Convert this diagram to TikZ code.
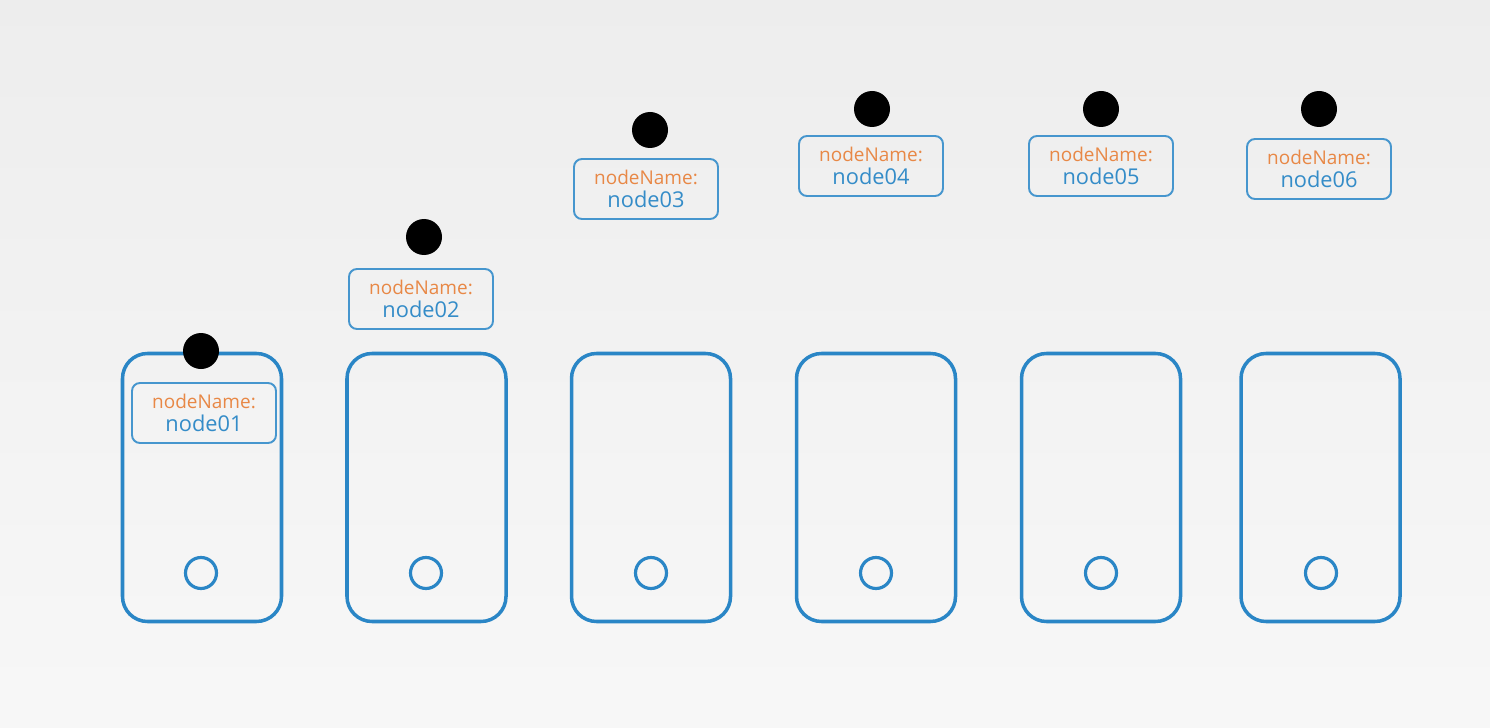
\documentclass[tikz,border=0pt]{standalone}
\usepackage{fontspec}
\setmainfont{Open Sans}
\usepackage{tikz}
\usetikzlibrary{positioning}
\definecolor{srvblue}{RGB}{42,134,198}
\definecolor{lblblue}{RGB}{70,150,206}
\definecolor{txtblue}{RGB}{52,140,200}
\definecolor{txtorange}{RGB}{232,136,70}
\tikzset{
    server/.style = {draw=srvblue, line width=1pt, rounded corners=0.25cm,
        minimum width=1.59cm, minimum height=2.68cm, inner sep=0pt},
    homebtn/.style = {draw=srvblue, line width=0.9pt, circle, minimum size=0.31cm, inner sep=0pt},
    pod/.style = {fill=black, circle, minimum size=0.36cm, inner sep=0pt},
    podlabel/.style = {draw=lblblue, line width=0.55pt, rounded corners=0.08cm,
        minimum width=1.44cm, minimum height=0.60cm, inner sep=0pt, align=center,
        text=txtblue, font=\fontsize{6.2}{6.6}\selectfont},
}

\begin{document}
\begin{tikzpicture}
				\useasboundingbox (0, 0) rectangle (14.9, 7.27);
				\shade[top color=black!7, bottom color=black!3] (0, 0) rectangle (14.9, 7.27);

				\node[server] (S1) at (2.02, 2.395) {};
				\node[server] (S2) at (4.265, 2.395) {};
				\node[server] (S3) at (6.51, 2.395) {};
				\node[server] (S4) at (8.76, 2.395) {};
				\node[server] (S5) at (11.01, 2.395) {};
				\node[server] (S6) at (13.205, 2.395) {};

				\node[homebtn] (B1) at (2.01, 1.54) {};
				\node[homebtn] (B2) at (4.26, 1.54) {};
				\node[homebtn] (B3) at (6.51, 1.54) {};
				\node[homebtn] (B4) at (8.76, 1.54) {};
				\node[homebtn] (B5) at (11.01, 1.54) {};
				\node[homebtn] (B6) at (13.21, 1.54) {};

				\node[podlabel] (L1) at (2.04, 3.14) {{\color{txtorange}\fontsize{5.4}{6.6}\selectfont nodeName:}\\node01};
				\node[podlabel] (L2) at (4.21, 4.28) {{\color{txtorange}\fontsize{5.4}{6.6}\selectfont nodeName:}\\node02};
				\node[podlabel] (L3) at (6.46, 5.38) {{\color{txtorange}\fontsize{5.4}{6.6}\selectfont nodeName:}\\node03};
				\node[podlabel] (L4) at (8.71, 5.61) {{\color{txtorange}\fontsize{5.4}{6.6}\selectfont nodeName:}\\node04};
				\node[podlabel] (L5) at (11.01, 5.61) {{\color{txtorange}\fontsize{5.4}{6.6}\selectfont nodeName:}\\node05};
				\node[podlabel] (L6) at (13.19, 5.58) {{\color{txtorange}\fontsize{5.4}{6.6}\selectfont nodeName:}\\node06};

				\node[pod] (P1) at (2.01, 3.76) {};
				\node[pod] (P2) at (4.24, 4.90) {};
				\node[pod] (P3) at (6.50, 5.97) {};
				\node[pod] (P4) at (8.72, 6.18) {};
				\node[pod] (P5) at (11.01, 6.18) {};
				\node[pod] (P6) at (13.19, 6.18) {};
			\end{tikzpicture}
\end{document}
